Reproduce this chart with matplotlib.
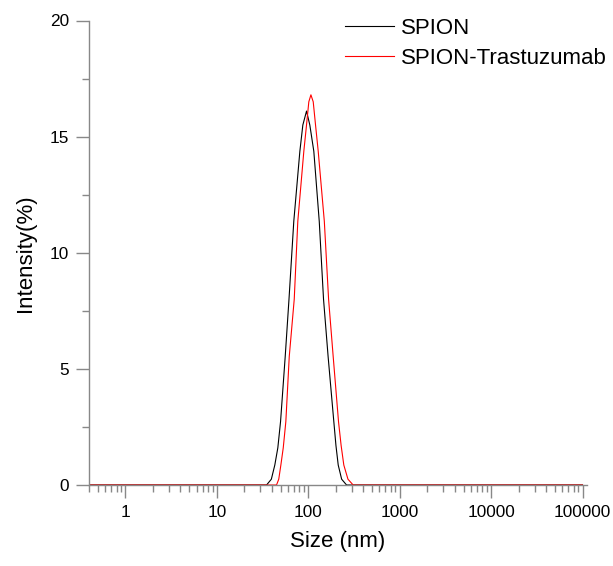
import matplotlib.pyplot as plt
from matplotlib.ticker import LogLocator, FixedLocator, NullFormatter

plt.rcParams['font.family'] = ['Liberation Sans', 'DejaVu Sans']

# size (nm) and intensity (%)
spion_size = [0.4, 35.0, 39.5, 43.1, 46.5, 49.8, 56.0, 61.6, 69.5, 81.0, 87.3,
              95.8, 104.1, 115.1, 132.0, 147.0, 165.0, 190.5, 201.0, 212.8,
              232.0, 262.6, 100000]
spion = [0, 0, 0.25, 0.86, 1.6, 2.73, 5.53, 8.0, 11.35, 14.37, 15.5,
         16.1, 15.5, 14.37, 11.35, 8.0, 5.53, 2.73, 1.7, 0.86,
         0.25, 0, 0]

trast_size = [0.4, 45.0, 47.6, 50.2, 53.3, 56.9, 62.0, 70.3, 76.9, 89.5, 95.8,
              101.5, 107.0, 113.4, 120.2, 128.6, 150.0, 167.0, 187.5, 214.4,
              229.0, 245.0, 272.0, 310.0, 100000]
spion_trast = [0, 0, 0.25, 0.86, 1.6, 2.73, 5.53, 8.0, 11.35, 14.37, 15.5,
               16.5, 16.8, 16.5, 15.5, 14.37, 11.35, 8.0, 5.53, 2.73,
               1.7, 0.86, 0.25, 0, 0]

x_ticks = [1, 10, 100, 1000, 10000, 100000]
x_labels = ["1", "10", "100", "1000", "10000", "100000"]
y_ticks = [0, 5, 10, 15, 20]

fig = plt.figure(figsize=(6.13, 5.66), dpi=100)
ax = fig.add_axes([89 / 613, 81 / 566, (587 - 89) / 613, (485 - 20.5) / 566])

ax.plot(spion_size, spion, color='black', lw=0.8, label="SPION")
ax.plot(trast_size, spion_trast, color='red', lw=0.8, label="SPION-Trastuzumab")

ax.set_xscale('log')
ax.set_xlim(0.4, 1.12e5)
ax.set_ylim(0, 20)

ax.set_xticks(x_ticks)
ax.set_xticklabels(x_labels)
ax.xaxis.set_minor_locator(LogLocator(base=10, subs=range(2, 10), numticks=20))
ax.xaxis.set_minor_formatter(NullFormatter())
ax.set_yticks(y_ticks)
ax.yaxis.set_minor_locator(FixedLocator([2.5, 7.5, 12.5, 17.5]))

for s in ['top', 'right']:
    ax.spines[s].set_visible(False)
for s in ['left', 'bottom']:
    ax.spines[s].set_color('#888888')
    ax.spines[s].set_linewidth(1.0)

ax.tick_params(which='major', length=9.4, width=1.0, color='#888888',
               labelsize=12.4, pad=5)
ax.tick_params(which='minor', length=5, width=1.0, color='#888888')

ax.set_xlabel("Size (nm)", fontsize=16, labelpad=8)
ax.set_ylabel("Intensity(%)", fontsize=16, labelpad=10)

ax.legend(loc='upper left', bbox_to_anchor=(345 / 613, 1 - 18 / 566),
          bbox_transform=fig.transFigure, frameon=False, fontsize=16,
          handlelength=2.2, handletextpad=0.3, labelspacing=0.4,
          borderpad=0, borderaxespad=0)

plt.savefig('out.png', dpi=100)
